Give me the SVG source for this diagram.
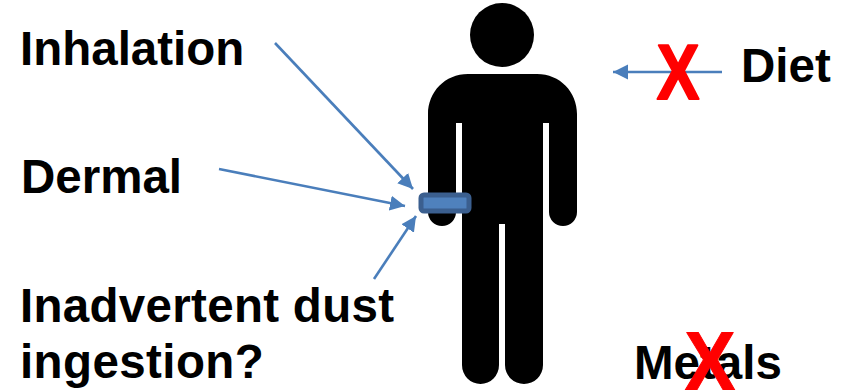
<svg xmlns="http://www.w3.org/2000/svg" width="845" height="390" viewBox="0 0 845 390">
<style>
.l{font-family:"Liberation Sans",Arial,sans-serif;font-weight:700;font-size:47.500px;fill:#000}
.x{font-family:"Liberation Sans",Arial,sans-serif;font-weight:700;fill:#f00;stroke:#f00;stroke-linejoin:round}
.c{fill:none;stroke:#4a7ebb;stroke-width:2.600}
</style>
<defs><marker id="a" markerUnits="userSpaceOnUse" markerWidth="16" markerHeight="16" refX="15" refY="8" orient="auto"><path d="M0 0.500L15 8L0 15.500Z" fill="#4a7ebb"/></marker></defs>
<rect width="845" height="390" fill="#fff"/>
<g id="person">
<circle cx="502" cy="35" r="32"/>
<path d="M468 74H537C560 74 577 92 577 114V212A14 14 0 0 1 549 212V123H543V365A19 19 0 0 1 505 365V224H499V365A18.500 19 0 0 1 462 365V123H456V212A14 14 0 0 1 428 212V114C428 92 445 74 468 74Z"/>
</g>
<g id="band"><rect x="421" y="195" width="48" height="16" rx="3" fill="#4f81bd" stroke="#3b5f8f" stroke-width="5"/></g>
<g id="connectors">
<path class="c" marker-end="url(#a)" d="M275 43L413 189"/>
<path class="c" marker-end="url(#a)" d="M219 169L405 206"/>
<path class="c" marker-end="url(#a)" d="M374 279L416 216"/>
<path class="c" marker-end="url(#a)" d="M722 72H613"/>
</g>
<g id="inhalation"><text class="l" x="20" y="65">Inhalation</text></g>
<g id="dermal"><text class="l" x="21" y="193">Dermal</text></g>
<g id="dust"><text class="l" x="20" y="322" letter-spacing=".3">Inadvertent dust</text><text class="l" x="20" y="378" letter-spacing=".4">ingestion?</text></g>
<g id="diet"><text class="l" x="741" y="82">Diet</text><text class="x" font-size="78" stroke-width="2" text-anchor="middle" transform="translate(678 98.500) scale(.82 1)">X</text></g>
<g id="metals"><text class="l" x="634" y="379">Metals</text><text class="x" font-size="84" stroke-width="1" text-anchor="middle" transform="translate(710 390) scale(.91 1)">X</text></g>
</svg>
